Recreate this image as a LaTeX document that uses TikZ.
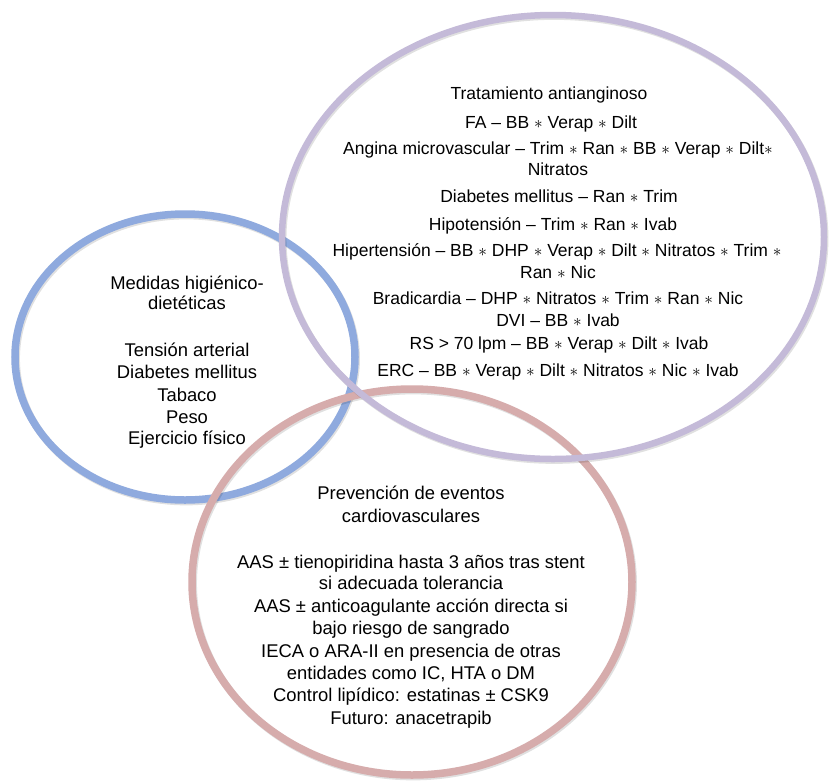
\documentclass[tikz,border=0pt]{standalone}
\usepackage{fontspec}
\setmainfont{Liberation Sans}
\usetikzlibrary{shapes.geometric}
\definecolor{ringblue}{RGB}{143,170,222}
\definecolor{ringpurple}{RGB}{196,186,216}
\definecolor{ringpink}{RGB}{214,172,172}
\newcommand{\astr}{$\ast$}
\tikzset{
  ring/.style={ellipse, draw, line width=7.5pt, inner sep=0pt, outer sep=0pt},
  ringshadow/.style={draw=black, draw opacity=0.12, line width=7.5pt},
  ptext/.style={anchor=base, inner sep=0pt, font=\fontsize{17.5}{21}\selectfont},
  btext/.style={anchor=base, inner sep=0pt, font=\fontsize{18.4}{22}\selectfont},
  ktext/.style={anchor=base, inner sep=0pt, font=\fontsize{18.4}{22}\selectfont}
}
\begin{document}
\begin{tikzpicture}[x=1pt,y=-1pt]
\useasboundingbox[fill=white] (0,0) rectangle (830,780);
% shadows and rings (order: blue, pink, purple)
\coordinate (cb) at (185,357);
\coordinate (ck) at (412,582);
\coordinate (cp) at (553,237);
\draw[ringshadow] ([shift={(1.2,1.6)}]cb) ellipse [x radius=170, y radius=143];
\node[ring, draw=ringblue, minimum width=340pt, minimum height=286pt] (blue) at (cb) {};
\draw[ringshadow] ([shift={(1.2,1.6)}]ck) ellipse [x radius=220, y radius=193];
\node[ring, draw=ringpink, minimum width=440pt, minimum height=386pt] (pink) at (ck) {};
\draw[ringshadow, line width=6.5pt] ([shift={(1.2,1.6)}]cp) ellipse [x radius=271, y radius=222];
\node[ring, draw=ringpurple, line width=6.5pt, minimum width=542pt, minimum height=444pt] (purple) at (cp) {};
% purple texts
\node[ptext] (p1) at (549,99) {Tratamiento antianginoso};
\node[ptext] (p2) at (551,128) {FA – BB \astr{} Verap \astr{} Dilt};
\node[ptext] (p3) at (558,154) {Angina microvascular – Trim \astr{} Ran \astr{} BB \astr{} Verap \astr{} Dilt\astr};
\node[ptext] (p4) at (558,175) {Nitratos};
\node[ptext] (p5) at (559,202) {Diabetes mellitus – Ran \astr{} Trim};
\node[ptext] (p6) at (553,230) {Hipotensión – Trim \astr{} Ran \astr{} Ivab};
\node[ptext] (p7) at (557,256) {Hipertensión – BB \astr{} DHP \astr{} Verap \astr{} Dilt \astr{} Nitratos \astr{} Trim \astr};
\node[ptext] (p8) at (558,278) {Ran \astr{} Nic};
\node[ptext] (p9) at (558,304) {Bradicardia – DHP \astr{} Nitratos \astr{} Trim \astr{} Ran \astr{} Nic};
\node[ptext] (p10) at (558,326) {DVI – BB \astr{} Ivab};
\node[ptext] (p11) at (559,349) {RS > 70 lpm – BB \astr{} Verap \astr{} Dilt \astr{} Ivab};
\node[ptext] (p12) at (558,376) {ERC – BB \astr{} Verap \astr{} Dilt \astr{} Nitratos \astr{} Nic \astr{} Ivab};
% blue texts
\node[btext] (b1) at (187,289) {Medidas higiénico-};
\node[btext] (b2) at (187,309) {dietéticas};
\node[btext] (b3) at (187,356) {Tensión arterial};
\node[btext] (b4) at (187,378) {Diabetes mellitus};
\node[btext] (b5) at (187,401) {Tabaco};
\node[btext] (b6) at (187,423) {Peso};
\node[btext] (b7) at (187,444) {Ejercicio físico};
% pink texts
\node[ktext] (k1) at (411,499) {Prevención de eventos};
\node[ktext] (k2) at (411,522) {cardiovasculares};
\node[ktext] (k3) at (411,568) {AAS ± tienopiridina hasta 3 años tras stent};
\node[ktext] (k4) at (411,589) {si adecuada tolerancia};
\node[ktext] (k5) at (411,612) {AAS ± anticoagulante acción directa si};
\node[ktext] (k6) at (411,634) {bajo riesgo de sangrado};
\node[ktext] (k7) at (411,657) {IECA o ARA-II en presencia de otras};
\node[ktext] (k8) at (411,679) {entidades como IC, HTA o DM};
\node[ktext] (k9) at (411,701) {Control lipídico: estatinas ± CSK9};
\node[ktext] (k10) at (411,724) {Futuro: anacetrapib};
\end{tikzpicture}
\end{document}
